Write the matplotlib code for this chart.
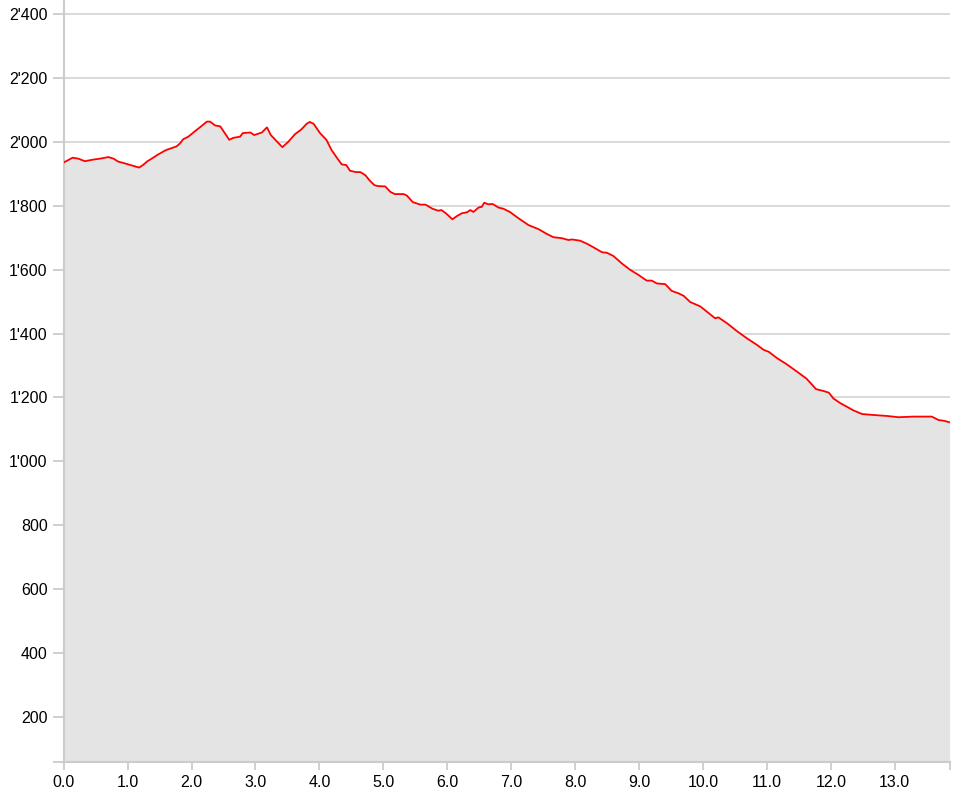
#!/usr/bin/env python3
import matplotlib
matplotlib.use("Agg")
import matplotlib.pyplot as plt

# distance (km) and elevation (m)
dist = [0.00, 0.14, 0.23, 0.33, 0.46, 0.57, 0.70, 0.78, 0.85, 0.96,
        1.06, 1.18, 1.24, 1.31, 1.36, 1.46, 1.60, 1.69, 1.77, 1.82,
        1.87, 1.95, 2.06, 2.13, 2.24, 2.29, 2.37, 2.45, 2.52, 2.59,
        2.65, 2.76, 2.80, 2.92, 2.98, 3.10, 3.18, 3.24, 3.31, 3.42,
        3.51, 3.62, 3.72, 3.80, 3.85, 3.91, 4.01, 4.11, 4.19, 4.28,
        4.35, 4.42, 4.48, 4.57, 4.64, 4.72, 4.78, 4.86, 4.92, 5.03,
        5.11, 5.18, 5.32, 5.37, 5.46, 5.58, 5.66, 5.77, 5.86, 5.91,
        5.99, 6.08, 6.15, 6.23, 6.31, 6.36, 6.41, 6.49, 6.54, 6.58,
        6.64, 6.71, 6.80, 6.88, 6.98, 7.11, 7.27, 7.43, 7.56, 7.66,
        7.79, 7.90, 7.95, 8.08, 8.19, 8.29, 8.42, 8.50, 8.60, 8.73,
        8.86, 8.99, 9.12, 9.20, 9.28, 9.41, 9.51, 9.62, 9.70, 9.80,
        9.96, 10.06, 10.19, 10.24, 10.38, 10.53, 10.69, 10.85, 10.95, 11.03,
        11.16, 11.31, 11.47, 11.62, 11.71, 11.77, 11.89, 11.97, 12.04, 12.15,
        12.25, 12.36, 12.49, 12.67, 12.88, 13.06, 13.30, 13.58, 13.69, 13.77,
        13.86]
elev = [1936, 1951, 1948, 1940, 1945, 1948, 1953, 1948, 1939, 1933,
        1927, 1920, 1928, 1940, 1946, 1959, 1975, 1981, 1987, 1996,
        2009, 2017, 2035, 2046, 2064, 2064, 2052, 2049, 2028, 2007,
        2013, 2017, 2028, 2030, 2022, 2030, 2046, 2022, 2007, 1984,
        2000, 2025, 2040, 2057, 2063, 2057, 2028, 2007, 1975, 1949,
        1930, 1928, 1910, 1906, 1906, 1896, 1881, 1865, 1862, 1861,
        1844, 1837, 1837, 1832, 1812, 1804, 1804, 1791, 1785, 1787,
        1775, 1758, 1768, 1777, 1780, 1787, 1781, 1795, 1797, 1810,
        1805, 1806, 1795, 1791, 1781, 1762, 1740, 1727, 1712, 1702,
        1699, 1693, 1695, 1691, 1681, 1670, 1655, 1653, 1643, 1620,
        1600, 1584, 1566, 1566, 1557, 1555, 1534, 1526, 1518, 1499,
        1485, 1469, 1448, 1451, 1432, 1408, 1385, 1364, 1349, 1343,
        1323, 1304, 1281, 1259, 1239, 1226, 1220, 1215, 1197, 1182,
        1171, 1159, 1148, 1145, 1142, 1138, 1140, 1140, 1129, 1127,
        1122]

x_ticks = list(range(0, 14))
y_ticks = list(range(200, 2401, 200))

x_max = 13.87
y_min, y_max = 58, 2445

plt.rcParams["font.family"] = ["Liberation Sans", "DejaVu Sans"]

fig = plt.figure(figsize=(9.58, 7.97), dpi=100)
ax = fig.add_axes([63.7 / 958, 35 / 797, (950.3 - 63.7) / 958, 762 / 797])

ax.fill_between(dist, elev, y_min, color="#e4e4e4", linewidth=0, zorder=1)
ax.plot(dist, elev, color="#ff0000", linewidth=1.3, zorder=3)

ax.set_xlim(0, x_max)
ax.set_ylim(y_min, y_max)

# grid lines only at labelled ticks
for v in y_ticks:
    ax.axhline(v, color="#d9d9d9", linewidth=1.4, zorder=0.5)

ax.set_xticks(x_ticks + [x_max])
ax.set_xticklabels([f"{v:.1f}" for v in x_ticks] + [""])
ax.set_yticks([y_min] + y_ticks)
ax.set_yticklabels([""] + [f"{v:,}".replace(",", "'") for v in y_ticks])

for side in ["top", "right"]:
    ax.spines[side].set_visible(False)
for side in ["left", "bottom"]:
    ax.spines[side].set_color("#cccccc")
    ax.spines[side].set_linewidth(1.5)

ax.tick_params(axis="y", length=8, width=1.3, color="#cccccc", pad=3.5,
               labelsize=11.5, labelcolor="black")
ax.tick_params(axis="x", length=6, width=1.3, color="#cccccc", pad=3.5,
               labelsize=11.5, labelcolor="black")

fig.savefig("out.png", dpi=100)
